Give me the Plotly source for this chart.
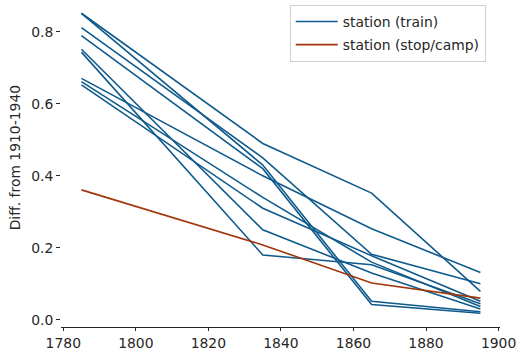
import plotly.graph_objects as go

years = [1785, 1835, 1865, 1895]

train_series = [
    [0.852, 0.49, 0.352, 0.079],
    [0.852, 0.43, 0.051, 0.022],
    [0.812, 0.45, 0.182, 0.100],
    [0.790, 0.42, 0.042, 0.018],
    [0.752, 0.25, 0.130, 0.030],
    [0.744, 0.18, 0.153, 0.044],
    [0.671, 0.40, 0.253, 0.131],
    [0.662, 0.34, 0.160, 0.037],
    [0.653, 0.31, 0.178, 0.051],
]
stop_series = [0.361, 0.208, 0.102, 0.060]

train_name = "station (train)"
stop_name = "station (stop/camp)"
y_title = "Diff. from 1910-1940"
x_ticks = [1780, 1800, 1820, 1840, 1860, 1880, 1900]
y_ticks = [0.0, 0.2, 0.4, 0.6, 0.8]

BLUE = "#0f5a8c"
RED = "#a0360c"
FONT = "DejaVu Sans"
FS = 13.9

fig = go.Figure()
for i, s in enumerate(train_series):
    fig.add_trace(go.Scatter(x=years, y=s, mode="lines", name=train_name,
                             line=dict(color=BLUE, width=1.6),
                             showlegend=(i == 0), legendgroup="train"))
fig.add_trace(go.Scatter(x=years, y=stop_series, mode="lines", name=stop_name,
                         line=dict(color=RED, width=1.6), legendgroup="stop"))

fig.update_layout(
    width=521, height=350,
    margin=dict(l=61, r=21, t=5, b=23, autoexpand=False),
    plot_bgcolor="white", paper_bgcolor="white",
    font=dict(family=FONT, size=FS, color="#262626"),
    showlegend=True,
    legend=dict(x=0.521, y=1.0, xanchor="left", yanchor="top",
                bordercolor="#d0d0d0", borderwidth=1, bgcolor="rgba(255,255,255,0.8)",
                font=dict(family=FONT, size=FS, color="#262626"),
                itemwidth=42, tracegroupgap=2),
    xaxis=dict(range=[1779.37, 1900.4], tickvals=x_ticks, showgrid=False, zeroline=False,
               showline=True, linecolor="#262626", linewidth=1,
               ticks="outside", ticklen=3, tickcolor="#262626", tickwidth=1),
    yaxis=dict(range=[-0.0203, 0.875], tickvals=y_ticks, tickformat=".1f",
               showgrid=False, zeroline=False, showline=False,
               ticks="outside", ticklen=4, tickcolor="#262626", tickwidth=1),
)
fig.add_annotation(text=y_title, xref="paper", yref="paper", x=-61/439 + 15/439, y=(327.3-158.5)/322.3,
                   showarrow=False, textangle=-90, xanchor="center", yanchor="middle",
                   font=dict(family=FONT, size=FS, color="#262626"))
fig.write_html("out.html")
